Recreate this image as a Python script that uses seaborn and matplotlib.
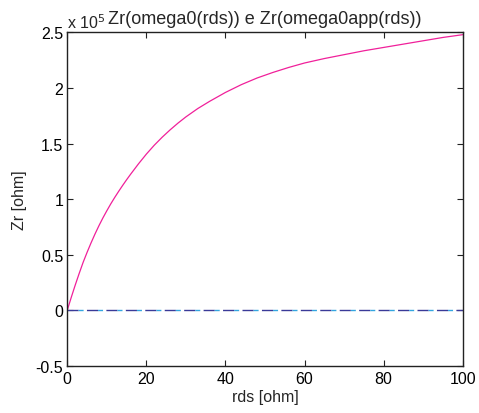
import numpy as np
import pandas as pd
import matplotlib
matplotlib.use("Agg")
import matplotlib.pyplot as plt
import seaborn as sns

# ---- data ----
rds = [0, 1, 2, 3, 4, 5, 6, 7, 8, 9, 10, 11, 12, 13, 14, 15, 16, 18, 20, 22, 24, 26,
       28, 30, 33, 36, 40, 44, 48, 52, 56, 60, 65, 70, 75, 80, 85, 90, 95, 100]
zr_omega0_e5 = [0.0, 0.115, 0.225, 0.33, 0.43, 0.52, 0.605, 0.685, 0.76, 0.83, 0.895,
                0.957, 1.015, 1.07, 1.123, 1.174, 1.223, 1.317, 1.405, 1.485, 1.557, 1.623,
                1.684, 1.74, 1.815, 1.88, 1.96, 2.03, 2.09, 2.14, 2.185, 2.225, 2.265,
                2.30, 2.335, 2.365, 2.395, 2.425, 2.455, 2.48]
zr_app_x = [0, 100]
zr_app_e5 = [0.0, 0.0]
y_ticks = [-0.5, 0, 0.5, 1, 1.5, 2, 2.5]
y_tick_labels = ["-0.5", "0", "0.5", "1", "1.5", "2", "2.5"]
x_ticks = [0, 20, 40, 60, 80, 100]
x_tick_labels = ["0", "20", "40", "60", "80", "100"]
title = "Zr(omega0(rds)) e Zr(omega0app(rds))"

sns.set_style("ticks")
plt.rcParams["font.family"] = ["Liberation Sans", "DejaVu Sans"]

fig = plt.figure(figsize=(4.79, 4.14), dpi=100)
ax = fig.add_axes([0.1405, 0.1143, 0.8255, 0.8049])

df1 = pd.DataFrame({"rds": rds, "zr": zr_omega0_e5})
df2 = pd.DataFrame({"rds": zr_app_x, "zr": zr_app_e5})

# dashed zero line: navy dash followed by a short light-blue dash
sns.lineplot(data=df2, x="rds", y="zr", ax=ax, color="#3a3a98", lw=1.0,
             linestyle=(0, (8, 6)))
sns.lineplot(data=df2, x="rds", y="zr", ax=ax, color="#33a6e0", lw=1.0,
             linestyle=(6, (3.6, 10.4)))
sns.lineplot(data=df1, x="rds", y="zr", ax=ax, color="#f0209a", lw=0.9)

ax.set_xlim(0, 100)
ax.set_ylim(-0.5, 2.5)
ax.set_xticks(x_ticks)
ax.set_xticklabels(x_tick_labels)
ax.set_yticks(y_ticks)
ax.set_yticklabels(y_tick_labels)
ax.tick_params(direction="in", top=True, right=True, length=4, width=0.8,
               labelsize=11.5, colors="#222222", labelcolor="black")
ax.tick_params(axis="x", pad=4)
ax.tick_params(axis="y", pad=3)
for s in ax.spines.values():
    s.set_linewidth(1.0)
    s.set_color("#222222")
    s.set_visible(True)

ax.set_xlabel("rds [ohm]", fontsize=11.5, labelpad=2)
ax.set_ylabel("Zr [ohm]", fontsize=11.5, labelpad=6)
ax.set_title(title, fontsize=13, pad=7)
ax.text(0.0, 1.005, "x 10$^{5}$", transform=ax.transAxes, fontsize=11.5,
        ha="left", va="bottom")

fig.savefig("out.png", dpi=100)
